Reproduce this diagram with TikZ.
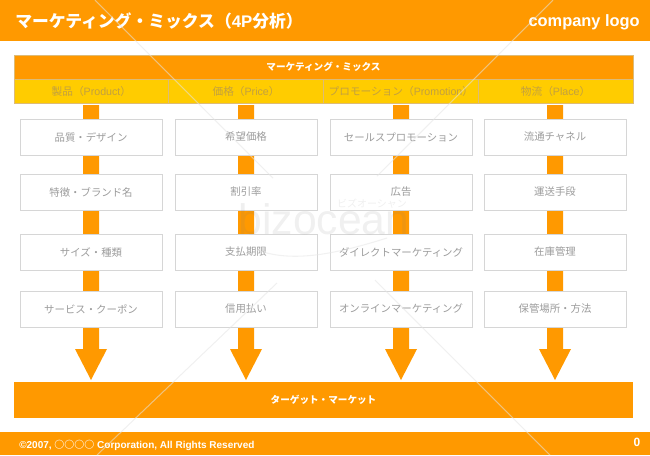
\documentclass[tikz,border=0pt]{standalone}
\usepackage{fontspec}
\setmainfont{Noto Sans CJK JP}
\newfontfamily\latinfont{Liberation Sans}
\definecolor{mixorange}{HTML}{FF9900}
\definecolor{mixyellow}{HTML}{FFCC00}
\definecolor{mixgray}{HTML}{9C9C9C}
\definecolor{mixtan}{HTML}{C2A040}
\definecolor{mixline}{HTML}{D6D6D6}
\definecolor{mixedge}{HTML}{DDBB77}
\definecolor{wmgray}{HTML}{E4E4E4}
\usetikzlibrary{positioning, calc}

\begin{document}
\begin{tikzpicture}[x=0.75pt, y=-0.75pt,
    band/.style={rectangle, fill=mixorange, draw=none, inner sep=0pt,
                 minimum width=650*0.75pt},
    head/.style={rectangle, fill=mixorange, draw=mixedge, line width=0.5pt,
                 inner sep=0pt, minimum width=619*0.75pt,
                 font=\fontsize{7.2}{9}\selectfont\bfseries, text=white},
    pcol/.style={rectangle, fill=mixyellow, draw=mixedge, line width=0.5pt,
                 inner sep=0pt, minimum width=154.75*0.75pt,
                 minimum height=24*0.75pt,
                 font=\fontsize{8}{9}\selectfont, text=mixtan},
    item/.style={rectangle, fill=white, draw=mixline, line width=0.7pt,
                 inner sep=0pt, minimum width=142*0.75pt,
                 minimum height=36*0.75pt,
                 font=\fontsize{7.8}{9}\selectfont, text=mixgray},
    flow/.style={fill=mixorange, draw=none},
    wmline/.style={draw=wmgray, line width=0.8pt, opacity=0.55}
  ]
    \useasboundingbox (0,0) rectangle (650,455);

    % Title and footer bands
    \node[band, minimum height=41*0.75pt] (title) at (325, 20.5) {};
    \node[band, minimum height=23*0.75pt] (foot)  at (325, 443.5) {};
    \node[inner sep=0pt, font=\fontsize{12.6}{15}\selectfont\bfseries, text=white, anchor=west]
      (titletext) at (15, 21) {マーケティング・ミックス（{\latinfont 4P}分析）};
    \node[inner sep=0pt, font=\latinfont\fontsize{12.3}{15}\selectfont\bfseries, text=white, anchor=east]
      (logo) at (640, 22) {company logo};
    \node[inner sep=0pt, font=\fontsize{7.5}{9}\selectfont\bfseries, text=white, anchor=west]
      (copy) at (19, 445) {{\latinfont ©2007, }○○○○{\latinfont\ Corporation, All Rights Reserved}};
    \node[font=\latinfont\fontsize{9}{11}\selectfont\bfseries, text=white]
      (page) at (637, 442) {0};

    % Vertical flows behind the boxes
    \foreach \name/\cx in {a/91, b/246, c/401, d/555} {
      \fill[flow] (\cx-8, 105) -- (\cx+8, 105) -- (\cx+8, 349) -- (\cx+16, 349)
        -- (\cx, 380) -- (\cx-16, 349) -- (\cx-8, 349) -- cycle;
    }

    % Header
    \node[head, minimum height=24*0.75pt] (mix) at (323.5, 67) {マーケティング・ミックス};
    \node[pcol] (pa) at (91.4, 91)  {製品（{\latinfont Product}）};
    \node[pcol] (pb) at (246.1, 91) {価格（{\latinfont Price}）};
    \node[pcol] (pc) at (400.9, 91) {プロモーション（{\latinfont Promotion}）};
    \node[pcol] (pd) at (555.6, 91) {物流（{\latinfont Place}）};

    % Product
    \node[item] (a1) at (91, 137)  {品質・デザイン};
    \node[item] (a2) at (91, 192)  {特徴・ブランド名};
    \node[item] (a3) at (91, 252)  {サイズ・種類};
    \node[item] (a4) at (91, 309)  {サービス・クーポン};
    % Price
    \node[item] (b1) at (246, 137) {希望価格};
    \node[item] (b2) at (246, 192) {割引率};
    \node[item] (b3) at (246, 252) {支払期限};
    \node[item] (b4) at (246, 309) {信用払い};
    % Promotion
    \node[item] (c1) at (401, 137) {セールスプロモーション};
    \node[item] (c2) at (401, 192) {広告};
    \node[item] (c3) at (401, 252) {ダイレクトマーケティング};
    \node[item] (c4) at (401, 309) {オンラインマーケティング};
    % Place
    \node[item] (d1) at (555, 137) {流通チャネル};
    \node[item] (d2) at (555, 192) {運送手段};
    \node[item] (d3) at (555, 252) {在庫管理};
    \node[item] (d4) at (555, 309) {保管場所・方法};

    % Target
    \node[band, minimum width=619*0.75pt, minimum height=36*0.75pt,
          font=\fontsize{7.2}{9}\selectfont\bfseries, text=white] (target)
      at (323.5, 400) {ターゲット・マーケット};

    % Watermark
    \draw[wmline] (95, 0)   -- (273, 178);
    \draw[wmline] (553, 0)  -- (377, 176);
    \draw[wmline] (97, 455) -- (277, 283);
    \draw[wmline] (550, 455) -- (375, 280);
    \node[font=\latinfont\fontsize{32}{36}\selectfont, text=gray, opacity=0.12]
      (wmname) at (324, 219) {bizocean};
    \node[font=\fontsize{7.5}{8}\selectfont, text=gray, opacity=0.12, inner sep=0pt]
      (wmkana) at (372, 204) {ビズオーシャン};
    \draw[wmline, opacity=0.5] (257, 250) .. controls (290, 262) and (330, 256) .. (387, 238);
  \end{tikzpicture}
\end{document}
